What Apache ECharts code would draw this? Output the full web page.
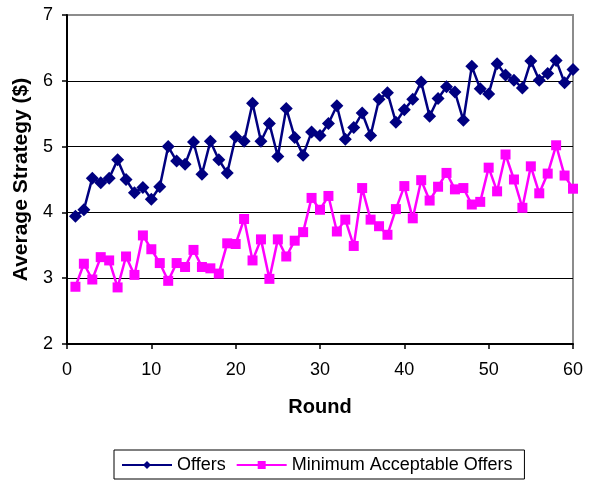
<!DOCTYPE html>
<html>
<head>
<meta charset="utf-8">
<script src="https://cdn.jsdelivr.net/npm/echarts@6/dist/echarts.min.js"></script>
<style>
  html, body { margin: 0; padding: 0; background: #fff; }
  #chart { width: 595px; height: 480px; }
</style>
</head>
<body>
<div id="chart"></div>
<script>
// Round numbers 1..60
const rounds = Array.from({ length: 60 }, (_, i) => i + 1);

// Average offer per round ($)
const offers = [
  3.94, 4.04, 4.52, 4.45, 4.52, 4.80, 4.50, 4.30, 4.38, 4.20,
  4.39, 5.00, 4.78, 4.73, 5.07, 4.58, 5.08, 4.80, 4.60, 5.15,
  5.08, 5.66, 5.08, 5.35, 4.85, 5.58, 5.14, 4.87, 5.22, 5.17,
  5.35, 5.62, 5.11, 5.29, 5.51, 5.17, 5.72, 5.82, 5.37, 5.56,
  5.72, 5.98, 5.46, 5.73, 5.91, 5.83, 5.40, 6.22, 5.88, 5.80,
  6.26, 6.09, 6.01, 5.89, 6.30, 6.01, 6.11, 6.31, 5.97, 6.17
];

// Average minimum acceptable offer per round ($)
const minAcceptable = [
  2.87, 3.22, 2.98, 3.32, 3.27, 2.86, 3.33, 3.05, 3.65, 3.44,
  3.23, 2.96, 3.23, 3.17, 3.43, 3.17, 3.15, 3.07, 3.53, 3.52,
  3.90, 3.27, 3.59, 2.99, 3.59, 3.33, 3.57, 3.70, 4.22, 4.04,
  4.25, 3.71, 3.89, 3.49, 4.37, 3.89, 3.79, 3.66, 4.05, 4.40,
  3.91, 4.49, 4.18, 4.39, 4.60, 4.35, 4.37, 4.12, 4.16, 4.68,
  4.32, 4.88, 4.50, 4.07, 4.70, 4.29, 4.59, 5.02, 4.56, 4.36
];

const seriesNames = ['Offers', 'Minimum Acceptable Offers'];
const xTitle = 'Round';
const yTitle = 'Average Strategy ($)';

const font = 'Liberation Sans, Arial, sans-serif';

const chart = echarts.init(document.getElementById('chart'));
chart.setOption({
  animation: false,
  backgroundColor: '#fff',
  grid: {
    left: 67, right: 22, top: 15, bottom: 136,
    show: true, borderColor: '#8c8c8c', borderWidth: 2, backgroundColor: '#fff'
  },
  xAxis: {
    type: 'value',
    min: 0, max: 60, interval: 10,
    name: xTitle,
    nameLocation: 'middle',
    nameGap: 53,
    nameTextStyle: { fontFamily: font, fontSize: 20, fontWeight: 'bold', color: '#000' },
    axisLine: { show: true, onZero: false, lineStyle: { color: '#000', width: 2 } },
    axisTick: { show: true, length: 5, lineStyle: { color: '#000', width: 1.5 } },
    axisLabel: { fontFamily: font, fontSize: 18, color: '#000', margin: 17 },
    splitLine: { show: false }
  },
  yAxis: {
    type: 'value',
    min: 2, max: 7, interval: 1,
    name: yTitle,
    nameLocation: 'middle',
    nameGap: 35,
    nameTextStyle: { fontFamily: font, fontSize: 21, fontWeight: 'bold', color: '#000' },
    axisLine: { show: true, lineStyle: { color: '#000', width: 2 } },
    axisTick: { show: true, length: 5, lineStyle: { color: '#000', width: 1.5 } },
    axisLabel: { fontFamily: font, fontSize: 18, color: '#000', margin: 14 },
    splitLine: {
      show: true,
      lineStyle: { color: ['#000', '#000', '#000', '#000', '#000', '#8c8c8c'], width: 1 }
    }
  },
  legend: {
    bottom: 1,
    left: 114,
    data: seriesNames,
    itemWidth: 50,
    itemHeight: 10,
    itemGap: 10,
    padding: [6, 12, 5, 7],
    borderColor: '#000',
    borderWidth: 1,
    borderRadius: 0,
    textStyle: { fontFamily: font, fontSize: 18, color: '#000' }
  },
  series: [
    {
      name: seriesNames[0],
      type: 'line',
      data: rounds.map((r, i) => [r, offers[i]]),
      symbol: 'diamond',
      symbolSize: 13,
      itemStyle: { color: '#000080' },
      lineStyle: { color: '#000080', width: 2.5 },
      z: 3
    },
    {
      name: seriesNames[1],
      type: 'line',
      data: rounds.map((r, i) => [r, minAcceptable[i]]),
      symbol: 'rect',
      symbolSize: 10,
      itemStyle: { color: '#ff00ff' },
      lineStyle: { color: '#ff00ff', width: 2.5 },
      z: 2
    }
  ]
});
</script>
</body>
</html>
